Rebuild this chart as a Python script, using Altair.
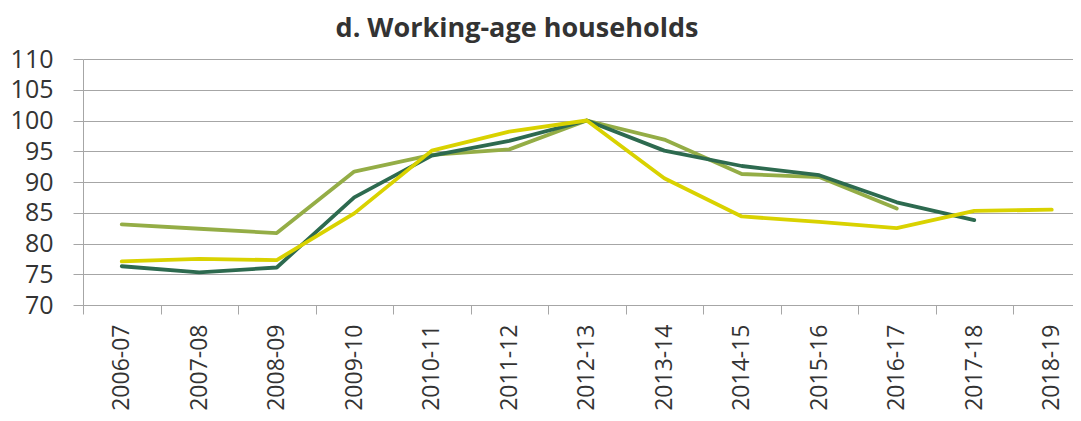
import json
import altair as alt
import pandas as pd

years = ["2006-07", "2007-08", "2008-09", "2009-10", "2010-11", "2011-12", "2012-13",
         "2013-14", "2014-15", "2015-16", "2016-17", "2017-18", "2018-19"]
series_names = ["Series 1", "Series 2", "Series 3"]
series_1 = [83.1, 82.4, 81.7, 91.7, 94.4, 95.3, 100.0, 96.9, 91.3, 90.8, 85.7, None, None]
series_2 = [76.3, 75.3, 76.1, 87.5, 94.3, 96.7, 100.0, 95.1, 92.6, 91.1, 86.7, 83.8, None]
series_3 = [77.1, 77.5, 77.3, 84.9, 95.1, 98.2, 100.0, 90.6, 84.4, 83.5, 82.5, 85.3, 85.5]
colors = ["#94ad46", "#2d6a4f", "#d9d200"]
y_ticks = [70, 75, 80, 85, 90, 95, 100, 105, 110]

rows = []
for name, vals in zip(series_names, [series_1, series_2, series_3]):
    for i, (yr, v) in enumerate(zip(years, vals)):
        if v is not None:
            rows.append({"series": name, "idx": i, "year": yr, "value": v})
df = pd.DataFrame(rows)

n = len(years)
band_px = 77.5
plot_w = 990
plot_h = 246
x_max = -0.5 + plot_w / band_px

x_values = []
for i in range(n):
    x_values.append(i - 0.5)
    x_values.append(i)
label_arr = json.dumps(years)

grid_col = "#a6a6a6"
text_col = "#333333"
font = "Open Sans"

chart = alt.Chart(df).mark_line(strokeWidth=3.8, strokeCap="round", strokeJoin="round").encode(
    x=alt.X("idx:Q",
            scale=alt.Scale(domain=[-0.5, x_max], nice=False, zero=False),
            axis=alt.Axis(values=x_values, title=None, grid=False,
                          domain=True, domainColor=grid_col, domainWidth=1,
                          tickColor=grid_col, tickSize=9, tickWidth=1,
                          tickOpacity={"condition": {"test": "datum.value % 1 !== 0", "value": 1}, "value": 0},
                          labelExpr=f"datum.value % 1 === 0 ? {label_arr}[datum.value] : ''",
                          labelAngle=-90, labelPadding=10, labelFontSize=23,
                          labelColor=text_col, labelFont=font, labelOverlap=False,
                          labelFlush=False)),
    y=alt.Y("value:Q",
            scale=alt.Scale(domain=[70, 110], nice=False, zero=False),
            axis=alt.Axis(values=y_ticks, title=None, grid=True, gridColor=grid_col,
                          gridWidth=1, domain=True, domainColor=grid_col,
                          tickColor=grid_col, tickSize=10, labelPadding=20,
                          labelFontSize=25, labelColor=text_col, labelFont=font,
                          labelFlush=False)),
    color=alt.Color("series:N", scale=alt.Scale(domain=series_names, range=colors), legend=None),
    order=alt.Order("idx:Q"),
    detail="series:N",
).properties(
    width=plot_w,
    height=plot_h,
    title=alt.TitleParams("d. Working-age households", fontSize=27, fontWeight="bold",
                          font=font, color=text_col, anchor="middle", frame="group",
                          dx=-61, offset=4),
    autosize=alt.AutoSizeParams(type="none"),
    padding={"left": 75, "top": 51, "right": 0, "bottom": 108},
).configure_view(stroke=None)

chart.save("out.html", embed_options={"renderer": "svg", "actions": False})
